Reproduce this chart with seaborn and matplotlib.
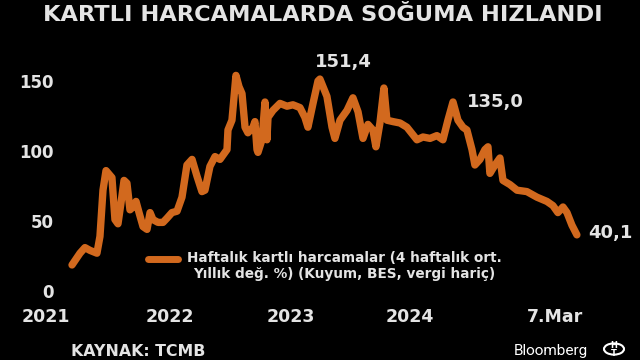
import matplotlib
matplotlib.use("Agg")
import matplotlib.pyplot as plt
import seaborn as sns
import pandas as pd
from matplotlib.patches import Circle

# ---- data (decimal-year positions, % yoy) ----
t = [2021.215, 2021.281, 2021.322, 2021.364, 2021.421, 2021.446, 2021.471, 2021.496,
     2021.545, 2021.570, 2021.595, 2021.620, 2021.645, 2021.669, 2021.694, 2021.719,
     2021.744, 2021.769, 2021.802, 2021.835, 2021.860, 2021.884, 2021.926, 2021.967,
     2022.000, 2022.041, 2022.083, 2022.124, 2022.165, 2022.207, 2022.248, 2022.289,
     2022.314, 2022.355, 2022.397, 2022.438, 2022.496, 2022.504, 2022.537, 2022.570,
     2022.595, 2022.620, 2022.645, 2022.669, 2022.711, 2022.727, 2022.744, 2022.752,
     2022.785, 2022.810, 2022.826, 2022.835, 2022.876, 2022.934, 2022.992, 2023.041,
     2023.099, 2023.140, 2023.165, 2023.207, 2023.248, 2023.264, 2023.322, 2023.364,
     2023.388, 2023.430, 2023.488, 2023.537, 2023.579, 2023.620, 2023.661, 2023.702,
     2023.727, 2023.760, 2023.793, 2023.818, 2023.868, 2023.926, 2023.983, 2024.066,
     2024.116, 2024.174, 2024.231, 2024.281, 2024.322, 2024.364, 2024.405, 2024.446,
     2024.479, 2024.521, 2024.545, 2024.587, 2024.628, 2024.653, 2024.669, 2024.711,
     2024.752, 2024.777, 2024.835, 2024.893, 2024.975, 2025.058, 2025.140, 2025.190,
     2025.231, 2025.273, 2025.306, 2025.347, 2025.388]
values = [18.6, 27, 31, 29, 27, 39, 72, 86,
          81, 51, 48, 63, 79, 77, 58, 60,
          64, 56, 46, 44, 56, 51, 49, 49,
          52, 56, 57, 67, 90, 94, 82, 71,
          72, 89, 96, 94, 101, 115, 122, 154,
          146, 141, 117, 113, 117, 121, 101, 99,
          108, 135, 108, 124, 129, 134, 132, 133,
          131, 124, 117, 134, 150, 151.4, 139, 117,
          109, 122, 129, 138, 128, 109, 119, 115,
          103, 120, 145, 122, 121, 120, 117, 108,
          110, 109, 111, 108, 122, 135.0, 122, 117,
          115, 101, 90, 94, 101, 103, 84, 90,
          95, 79, 76, 72, 71, 67, 64, 61,
          56, 60, 56, 47, 40.1]

title = "KARTLI HARCAMALARDA SOĞUMA HIZLANDI"
series_label = "Haftalık kartlı harcamalar (4 haftalık ort.\nYıllık değ. %) (Kuyum, BES, vergi hariç)"
x_tick_pos = [2021.0, 2022.02, 2023.02, 2024.01, 2025.21]
x_tick_labels = ["2021", "2022", "2023", "2024", "7.Mar"]
y_ticks = [0, 50, 100, 150]
callouts = [(2023.264, 151.4, "151,4"), (2024.364, 135.0, "135,0"), (2025.388, 40.1, "40,1")]
source = "KAYNAK: TCMB"

df = pd.DataFrame({"t": t, "v": values, "s": series_label})

sns.set_theme(style="dark")
plt.rcParams["font.family"] = ["DejaVu Sans"]
BG = "#000000"
FG = "#e4e4e4"
ORANGE = "#d2691e"

# axes spans x pixels 34..600 (2020.9 .. 2025.579), y pixels 60..291 (0..165)
fig = plt.figure(figsize=(6.4, 3.6), dpi=100, facecolor=BG)
ax = fig.add_axes([33.9/640, 69/360, 566.1/640, 231/360])
ax.set_facecolor(BG)

sns.lineplot(data=df, x="t", y="v", hue="s", palette=[ORANGE], ax=ax,
             linewidth=5.3, solid_capstyle="round", solid_joinstyle="round",
             clip_on=False, sort=False)

ax.set_xticks(x_tick_pos)
ax.set_xticklabels(x_tick_labels)
ax.set_yticks(y_ticks)
ax.set_xlim(2020.9, 2025.579)
ax.set_ylim(0, 165)
ax.set_xlabel("")
ax.set_ylabel("")
ax.grid(False)
for sp in ax.spines.values():
    sp.set_visible(False)
ax.tick_params(axis="both", length=0, colors=FG)
ax.tick_params(axis="x", pad=12, labelsize=12.5)
ax.tick_params(axis="y", pad=-14.4, labelsize=12)
for lab in ax.get_xticklabels() + ax.get_yticklabels():
    lab.set_fontweight("bold")
    lab.set_color(FG)

# callouts
offs = {"151,4": (17, 12, "center", "center"),
        "135,0": (10, 0, "left", "center"),
        "40,1": (8, 1, "left", "center")}
for x, y, s in callouts:
    dx, dy, ha, va = offs[s]
    ax.annotate(s, (x, y), xytext=(dx, dy), textcoords="offset points",
                ha=ha, va=va, color=FG, fontsize=13, fontweight="bold")

# legend
leg = ax.legend(loc="upper left", frameon=False,
                handlelength=2.2, handletextpad=0.6, borderaxespad=0,
                prop={"weight": "bold", "size": 9.8})
leg.set_bbox_to_anchor((143/640, (360 - 246)/360), transform=fig.transFigure)
for txt in leg.get_texts():
    txt.set_color(FG)
    txt.set_multialignment("center")
    txt.set_linespacing(1.1)
for h in leg.get_lines():
    h.set_linewidth(5)
    h.set_solid_capstyle("round")
    yd = h.get_ydata()
    h.set_ydata([v + 5.5 for v in yd])

fig.text(323/640, 1 - 15/360, title, ha="center", va="center", color=FG,
         fontsize=16.2, fontweight="bold")
fig.text(138/640, 1 - 352/360, source, ha="center", va="center", color=FG,
         fontsize=11.3, fontweight="bold")
fig.text(551/640, 1 - 351/360, "Bloomberg", ha="center", va="center", color="#ffffff",
         fontsize=11, family="Roboto")
circ = Circle((614/640, 1 - 349/360), 10/640, transform=fig.transFigure,
              facecolor=BG, edgecolor="#ffffff", linewidth=1.5)
fig.add_artist(circ)
fig.text(614/640, 1 - 345/360, "H", ha="center", va="center", color="#ffffff",
         fontsize=6, fontweight="bold")
fig.text(614/640, 1 - 354/360, "T", ha="center", va="center", color="#ffffff",
         fontsize=6, fontweight="bold")

fig.savefig("out.png", dpi=100, facecolor=BG)
